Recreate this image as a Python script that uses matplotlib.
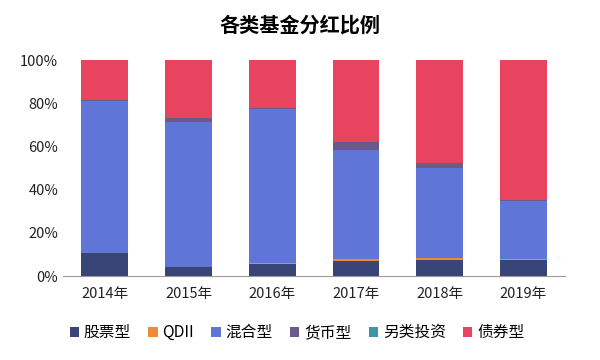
import numpy as np
import matplotlib
matplotlib.use("Agg")
import matplotlib.pyplot as plt

plt.rcParams["font.family"] = ["Noto Sans CJK SC", "DejaVu Sans"]

years = ["2014年", "2015年", "2016年", "2017年", "2018年", "2019年"]
series_names = ["股票型", "QDII", "混合型", "货币型", "另类投资", "债券型"]
colors = ["#3a4577", "#f0883a", "#5f75d8", "#6b5a8e", "#3c97a8", "#e8435f"]

# percentages of each fund type per year
stock = [10.8, 4.3, 5.6, 6.9, 7.3, 7.4]
qdii = [0.1, 0.1, 0.6, 1.0, 1.2, 0.4]
mixed = [70.0, 67.0, 71.0, 50.4, 41.4, 26.9]
money = [0.5, 1.6, 0.5, 3.9, 2.6, 0.5]
other = [0.0, 0.0, 0.0, 0.0, 0.0, 0.0]
bond = [18.6, 27.0, 22.3, 37.8, 47.5, 64.8]

data = [stock, qdii, mixed, money, other, bond]

fig = plt.figure(figsize=(6, 3.6), dpi=100)
ax = fig.add_axes([0.105, 0.233, 0.837, 0.6])

x = np.arange(len(years))
bottom = np.zeros(len(years))
for name, vals, c in zip(series_names, data, colors):
    vals = np.array(vals)
    ax.bar(x, vals, width=0.56, bottom=bottom, color=c, label=name)
    bottom += vals

ax.set_xlim(-0.5, len(years) - 0.5)
ax.set_ylim(0, 100)
ax.set_yticks([0, 20, 40, 60, 80, 100])
ax.set_yticklabels(["%d%%" % v for v in [0, 20, 40, 60, 80, 100]])
ax.set_xticks(x)
ax.set_xticklabels(years)
ax.tick_params(length=0, labelsize=10.5, colors="#222222")
ax.tick_params(axis="x", pad=8)
for s in ["top", "right", "left"]:
    ax.spines[s].set_visible(False)
ax.spines["bottom"].set_color("#9a9a9a")

fig.text(0.5, 0.93, "各类基金分红比例", ha="center", va="center",
         fontsize=14.5, fontweight="bold")

fig.legend(loc="center", bbox_to_anchor=(0.495, 0.076), ncol=6, frameon=False,
           fontsize=11.3, handlelength=0.6, handleheight=0.6,
           handletextpad=0.3, columnspacing=1.1)

fig.savefig("out.png", dpi=100)
